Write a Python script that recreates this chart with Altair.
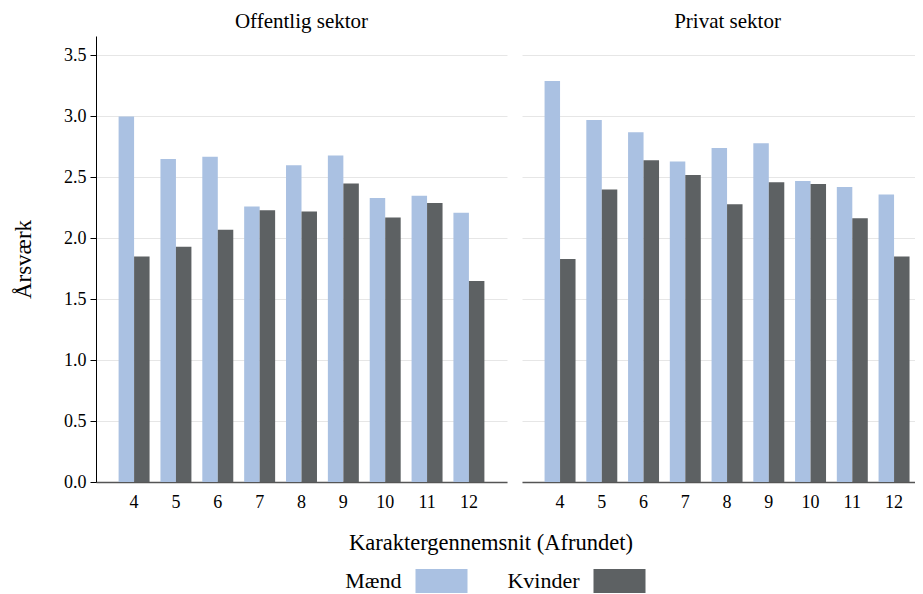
import altair as alt
import pandas as pd

karakter = [4, 5, 6, 7, 8, 9, 10, 11, 12]
off_maend = [3.00, 2.65, 2.67, 2.26, 2.60, 2.68, 2.33, 2.35, 2.21]
off_kvinder = [1.85, 1.93, 2.07, 2.23, 2.22, 2.45, 2.17, 2.29, 1.65]
priv_maend = [3.29, 2.97, 2.87, 2.63, 2.74, 2.78, 2.47, 2.42, 2.36]
priv_kvinder = [1.83, 2.40, 2.64, 2.52, 2.28, 2.46, 2.445, 2.165, 1.85]
koen = ["Mænd", "Kvinder"]
farver = ["#AAC1E2", "#5D6163"]
y_ticks = [0.0, 0.5, 1.0, 1.5, 2.0, 2.5, 3.0, 3.5]

FONT = "Liberation Serif"


def frame(m, k):
    rows = []
    for x, a, b in zip(karakter, m, k):
        rows.append({"karakter": x, "koen": koen[0], "aarsvaerk": a})
        rows.append({"karakter": x, "koen": koen[1], "aarsvaerk": b})
    return pd.DataFrame(rows)


color = alt.Color(
    "koen:N",
    scale=alt.Scale(domain=koen, range=farver),
    legend=alt.Legend(
        title=None,
        orient="none",
        legendX=319.5,
        legendY=519,
        direction="horizontal",
        symbolType="M-1,-0.46L1,-0.46L1,0.46L-1,0.46Z",
        symbolSize=2704,
        symbolStrokeWidth=0,
        symbolOpacity=1,
        labelFont=FONT,
        labelFontSize=22,
        labelColor="black",
        labelAlign="right",
        labelOffset={"expr": "-66"},
        columnPadding=39,
        padding=0,
    ),
)

xoff = alt.XOffset("koen:N", sort=koen, scale=alt.Scale(paddingInner=0, paddingOuter=0))
yscale = alt.Scale(domain=[0, 3.66], nice=False)

x_label_kw = dict(
    labelAngle=0,
    labelFont=FONT,
    labelFontSize=18,
    labelColor="black",
    labelPadding=11,
    ticks=False,
    tickSize=0,
    domainColor="#555555",
    domainWidth=1.5,
    grid=False,
)

title_kw = dict(
    font=FONT,
    fontSize=21,
    fontWeight="normal",
    color="black",
    anchor="middle",
    offset=4,
)

no_view = alt.ViewBackground(stroke="transparent", strokeWidth=0)

left = (
    alt.Chart(frame(off_maend, off_kvinder))
    .mark_bar()
    .encode(
        x=alt.X(
            "karakter:O",
            scale=alt.Scale(paddingInner=0.26, paddingOuter=0.54),
            axis=alt.Axis(
                title="Karaktergennemsnit (Afrundet)",
                titleFont=FONT,
                titleFontSize=22.5,
                titleFontWeight="normal",
                titleColor="black",
                titleX=394.5,
                titleAlign="center",
                titlePadding=20,
                **x_label_kw,
            ),
        ),
        xOffset=xoff,
        y=alt.Y(
            "aarsvaerk:Q",
            scale=yscale,
            axis=alt.Axis(
                title="Årsværk",
                titleFont=FONT,
                titleFontSize=23,
                titleFontWeight="normal",
                titleColor="black",
                titlePadding=28,
                values=y_ticks,
                format=".1f",
                labelFont=FONT,
                labelFontSize=18,
                labelColor="black",
                labelPadding=4,
                tickSize=6,
                tickColor="black",
                domainColor="black",
                domainWidth=1,
                grid=True,
                gridColor="#E6E6E6",
            ),
        ),
        color=color,
    )
    .properties(
        width=411,
        height=446,
        view=no_view,
        title=alt.TitleParams("Offentlig sektor", **title_kw),
    )
)

right = (
    alt.Chart(frame(priv_maend, priv_kvinder))
    .mark_bar()
    .encode(
        x=alt.X(
            "karakter:O",
            scale=alt.Scale(paddingInner=0.26, paddingOuter=0.3365, align=0.803),
            axis=alt.Axis(title=None, **x_label_kw),
        ),
        xOffset=xoff,
        y=alt.Y(
            "aarsvaerk:Q",
            scale=yscale,
            axis=alt.Axis(
                title=None,
                values=y_ticks,
                labels=False,
                ticks=False,
                domain=False,
                grid=True,
                gridColor="#E6E6E6",
            ),
        ),
        color=color,
    )
    .properties(
        width=393,
        height=446,
        view=no_view,
        title=alt.TitleParams("Privat sektor", dx=9, **title_kw),
    )
)

chart = (
    alt.hconcat(left, right, spacing=15, bounds="flush")
    .resolve_scale(y="shared", color="shared")
    .properties(padding={"left": 4, "top": 3, "right": 0, "bottom": 0})
    .configure(font=FONT)
    .configure_view(strokeWidth=0, stroke="transparent")
    .configure_axis(labelFont=FONT, titleFont=FONT)
    .configure_legend(labelFont=FONT)
)

chart.save("out.html", embed_options={"renderer": "svg", "actions": False})
